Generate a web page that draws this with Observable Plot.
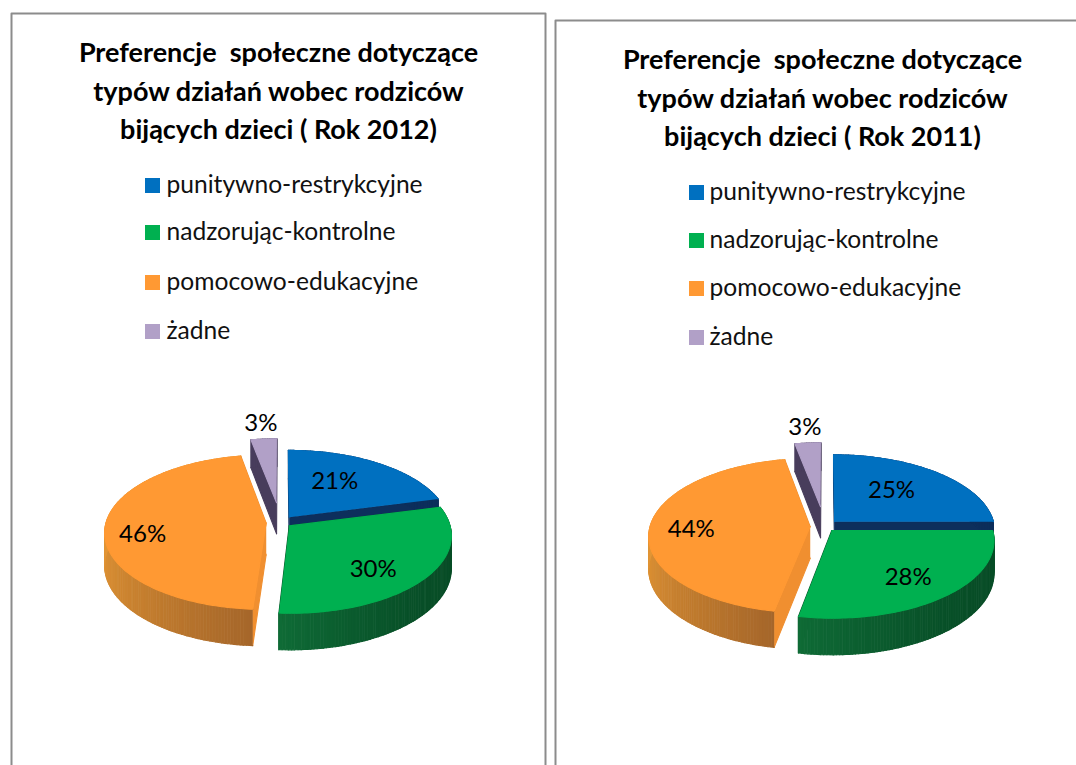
<!DOCTYPE html>
<html lang="pl">
<head>
<meta charset="utf-8">
<script src="https://cdn.jsdelivr.net/npm/d3@7"></script>
<script src="https://cdn.jsdelivr.net/npm/@observablehq/plot@0.6"></script>
<style>html,body{margin:0;padding:0;background:#fff}svg{display:block}</style>
</head>
<body>
<script>
// ---- data ----
const categories = ["punitywno-restrykcyjne", "nadzorując-kontrolne", "pomocowo-edukacyjne", "żadne"];
const values2012 = [21, 30, 46, 3];
const values2011 = [25, 28, 44, 3];
const titles2012 = ["Preferencje  społeczne dotyczące", "typów działań wobec rodziców", "bijących dzieci ( Rok 2012)"];
const titles2011 = ["Preferencje  społeczne dotyczące", "typów działań wobec rodziców", "bijących dzieci ( Rok 2011)"];

// ---- styles & layout ----
const W = 1076, H = 765;
const topColors = ["#0070c0", "#00b050", "#ff9933", "#b1a0c7"];
const faceColors = ["#0d2f5c", "#0a5a2c", "#f08f30", "#483d5c"];
const rimStops = [
  ["#0d2f5c", "#0d2f5c"],
  ["#0a4f28", "#064a25", "#0f6b36"],
  ["#a5662a", "#c8812e", "#e39636"],
  ["#483d5c", "#483d5c"]
];
const drawOrder = [3, 0, 2, 1];
const explode = [0.09, 0.07, 0.09, 0.27];
const R = 160, Ry = 76, K = 0.12, D = 32;
const pies = [
  {id: "a", values: values2012, cx: 280, cy: 522,
   labelRadius: [0.6, 0.72, 0.77, 1.28], labelTurn: [-7, 8, -7, 0]},
  {id: "b", values: values2011, cx: 824, cy: 526,
   labelRadius: [0.58, 0.72, 0.74, 1.28], labelTurn: [-4, 2, -3, 0]}
];
const panels = [
  {id: "p1", xs: [11, 11, 545, 545], ys: [H, 13, 13, H]},
  {id: "p2", xs: [555, 555, W], ys: [H, 20, 20]}
];
const titleBlocks = [
  {lines: titles2012, x: 278, y0: 53, dy: 38.5},
  {lines: titles2011, x: 822, y0: 60, dy: 38.5}
];
const legends = [
  {sq: 145, tx: 166, ys: [185, 232, 282, 331]},
  {sq: 689, tx: 709, ys: [192, 240, 288, 337]}
];

// ---- geometry of each exploded, tilted slice ----
const rad = a => a * Math.PI / 180;
function project(pie, X, Y, h) {
  const p = 1 / (1 + K * Y);
  return {x: pie.cx + R * X * p, y: pie.cy - Ry * Y * p + h * D * p};
}
const polys = [], labels = [];
for (const pie of pies) {
  const total = d3.sum(pie.values);
  let acc = 0;
  const spans = pie.values.map(v => { const s = [acc / total * 360, (acc + v) / total * 360]; acc += v; return s; });
  pie.values.forEach((v, i) => {
    const [a, b] = spans[i], mid = (a + b) / 2;
    const ox = explode[i] * Math.sin(rad(mid)), oy = explode[i] * Math.cos(rad(mid));
    const t = rad(mid + pie.labelTurn[i]), r = pie.labelRadius[i];
    labels.push({...project(pie, ox + r * Math.sin(t), oy + r * Math.cos(t), 0), text: v + "%"});
  });
  for (const i of drawOrder) {
    const [a, b] = spans[i], mid = (a + b) / 2;
    const ox = explode[i] * Math.sin(rad(mid)), oy = explode[i] * Math.cos(rad(mid));
    const pt = (r, t, h) => project(pie, ox + r * Math.sin(rad(t)), oy + r * Math.cos(rad(t)), h);
    const add = (id, fill, pts) => pts.forEach(q => polys.push({x: q.x, y: q.y, id: pie.id + i + id, fill}));
    add("s", faceColors[i], [pt(0, a, 0), pt(1, a, 0), pt(1, a, 1), pt(0, a, 1)]);
    add("e", faceColors[i], [pt(0, b, 0), pt(1, b, 0), pt(1, b, 1), pt(0, b, 1)]);
    const ramp = d3.interpolateRgbBasis(rimStops[i]);
    const steps = Math.max(2, Math.ceil(b - a));
    for (let s = 0; s < steps; ++s) {
      const t0 = a + (b - a) * s / steps, t1 = a + (b - a) * (s + 1) / steps;
      const u = Math.min(1, Math.max(0, ((t0 + t1) / 2 - Math.max(a, 90)) / (Math.min(b, 270) - Math.max(a, 90) || 1)));
      add("r" + s, d3.color(ramp(u)).formatHex(), [pt(1, t0, 0), pt(1, t1, 0), pt(1, t1, 1), pt(1, t0, 1)]);
    }
    const top = [pt(0, a, 0)];
    for (let s = 0; s <= steps; ++s) top.push(pt(1, a + (b - a) * s / steps, 0));
    add("t", topColors[i], top);
  }
}

const panelRows = panels.flatMap(p => p.xs.map((x, j) => ({x, y: p.ys[j], id: p.id})));
const titleRows = titleBlocks.flatMap(b => b.lines.map((text, j) => ({text, x: b.x, y: b.y0 + j * b.dy})));
const legendRows = legends.flatMap(l => categories.map((text, j) => ({text, sq: l.sq, tx: l.tx, y: l.ys[j], fill: topColors[j]})));

const chart = Plot.plot({
  width: W, height: H, margin: 0,
  x: {domain: [0, W], range: [0, W], axis: null},
  y: {domain: [0, H], range: [0, H], axis: null},
  color: {type: "identity"},
  style: {background: "#fff", fontFamily: "Lato, Carlito, sans-serif"},
  marks: [
    Plot.line(panelRows, {x: "x", y: "y", z: "id", stroke: "#8c8c8c", strokeWidth: 2, clip: false}),
    Plot.line(polys, {x: "x", y: "y", z: "id", fill: "fill", stroke: "fill", strokeWidth: 1.1, curve: "linear"}),
    Plot.text(titleRows, {x: "x", y: "y", text: "text", fontSize: 27, fontWeight: 700, fontFamily: "Lato", fill: "#000", textAnchor: "middle"}),
    Plot.rect(legendRows, {x1: "sq", x2: d => d.sq + 15, y1: d => d.y - 7, y2: d => d.y + 8, fill: "fill"}),
    Plot.text(legendRows, {x: "tx", y: "y", text: "text", fontSize: 24.6, fontFamily: "Lato", fill: "#111", textAnchor: "start"}),
    Plot.text(labels, {x: "x", y: "y", text: "text", fontSize: 24, fontFamily: "Lato", fill: "#000", textAnchor: "middle"})
  ]
});
document.body.appendChild(chart);
</script>
</body>
</html>
